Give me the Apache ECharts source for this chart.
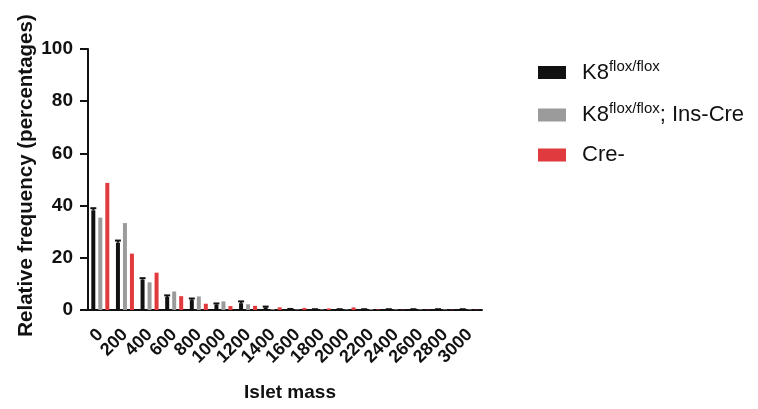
<!DOCTYPE html>
<html>
<head>
<meta charset="utf-8">
<script src="https://cdn.jsdelivr.net/npm/echarts@6/dist/echarts.min.js"></script>
<style>
  html, body { margin: 0; padding: 0; background: #fff; }
  #main { width: 758px; height: 409px; }
</style>
</head>
<body>
<div id="main"></div>
<script>
// islet mass bins
const categories = ['0', '200', '400', '600', '800', '1000', '1200', '1400', '1600', '1800', '2000', '2200', '2400', '2600', '2800', '3000'];

const floxValues = [38.2, 25.8, 11.6, 5.0, 3.8, 2.0, 2.6, 1.0, 0.3, 0.2, 0.2, 0.2, 0.2, 0.2, 0.2, 0.2];
const floxErrors = [0.8, 0.8, 0.6, 0.6, 0.6, 0.5, 0.7, 0.3, 0.1, 0.1, 0.1, 0.1, 0.1, 0.1, 0.1, 0.1];
const creValues = [35.4, 33.3, 10.6, 7.1, 5.2, 3.3, 2.2, 0.3, 0.2, 0.2, 0.2, 0.3, 0.2, 0.2, 0.2, 0.2];
const negValues = [48.7, 21.6, 14.3, 5.3, 2.4, 1.5, 1.6, 1.0, 0.8, 0.6, 1.0, 0.2, 0.1, 0.1, 0.1, 0.1];

const names = ['K8flox/flox', 'K8flox/flox; Ins-Cre', 'Cre-'];
const colors = ['#111111', '#9b9b9b', '#e0393e'];

const font = "'Liberation Sans', Arial, sans-serif";

let myChart = echarts.init(document.getElementById('main'));
myChart.setOption({
    animation: false,
    textStyle: { fontFamily: font },
    legend: {
        orient: 'vertical',
        left: 533,
        top: 54,
        itemWidth: 28,
        itemHeight: 13,
        itemGap: 18,
        icon: 'rect',
        data: names,
        formatter: function (name) {
            if (name === names[0]) return '{first|K8}{sup|flox/flox}';
            if (name === names[1]) return '{first|K8}{sup|flox/flox}{b|; Ins-Cre}';
            return '{first|' + name + '}';
        },
        textStyle: {
            rich: {
                first: { fontSize: 22, color: '#111', fontFamily: font, padding: [0, 0, 0, 11] },
                b: { fontSize: 22, color: '#111', fontFamily: font },
                sup: { fontSize: 15, color: '#111', fontFamily: font, verticalAlign: 'top', padding: [0, 0, 12, 0] }
            }
        }
    },
    grid: {
        left: 88,
        right: 276,
        top: 49,
        bottom: 99,
        outerBoundsMode: 'none'
    },
    xAxis: {
        type: 'category',
        data: categories,
        name: 'Islet mass',
        nameLocation: 'middle',
        nameGap: 73,
        nameMoveOverlap: false,
        nameTextStyle: { fontSize: 19, fontWeight: 'bold', color: '#111', padding: [0, 0, 0, 10] },
        axisLine: { lineStyle: { color: '#111', width: 2 } },
        axisTick: { alignWithLabel: true, length: 11, lineStyle: { width: 2, color: '#111' } },
        axisLabel: { rotate: 45, fontSize: 18, fontWeight: 'bold', color: '#111', margin: 22, interval: 0 }
    },
    yAxis: {
        type: 'value',
        min: 0,
        max: 100,
        interval: 20,
        name: 'Relative frequency (percentages)',
        nameLocation: 'middle',
        nameGap: 51,
        nameMoveOverlap: false,
        nameTextStyle: { fontSize: 20.5, fontWeight: 'bold', color: '#111', padding: [0, 0, 0, 8] },
        splitLine: { show: false },
        axisLine: { show: true, lineStyle: { color: '#111', width: 2 } },
        axisTick: { show: true, length: 8, lineStyle: { width: 2, color: '#111' } },
        axisLabel: { fontSize: 19, fontWeight: 'bold', color: '#111', margin: 15 }
    },
    series: [{
        name: names[0],
        type: 'bar',
        barWidth: 4,
        barGap: '75%',
        itemStyle: { color: colors[0] },
        data: floxValues
    }, {
        name: names[1],
        type: 'bar',
        barWidth: 4,
        itemStyle: { color: colors[1] },
        data: creValues
    }, {
        name: names[2],
        type: 'bar',
        barWidth: 4,
        itemStyle: { color: colors[2] },
        data: negValues
    }, {
        // upper error bars on the black series
        type: 'custom',
        silent: true,
        data: floxValues.map((v, i) => [i, v, v + floxErrors[i]]),
        renderItem: function (params, api) {
            const lo = api.coord([api.value(0), api.value(1)]);
            const hi = api.coord([api.value(0), api.value(2)]);
            const x = lo[0] - 7;
            return {
                type: 'group',
                children: [{
                    type: 'line',
                    shape: { x1: x, y1: lo[1], x2: x, y2: hi[1] },
                    style: { stroke: colors[0], lineWidth: 2 }
                }, {
                    type: 'line',
                    shape: { x1: x - 3, y1: hi[1], x2: x + 3, y2: hi[1] },
                    style: { stroke: colors[0], lineWidth: 2 }
                }]
            };
        }
    }]
});
</script>
</body>
</html>
